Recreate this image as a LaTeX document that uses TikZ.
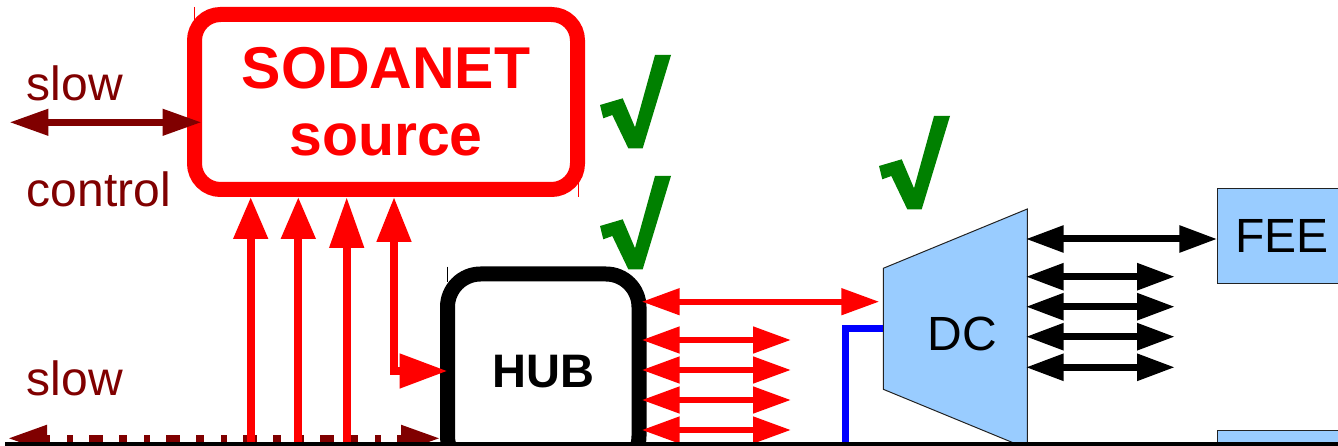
\documentclass[tikz,border=0pt]{standalone}
\usepackage{fontspec}
\setmainfont{Liberation Sans}
\usetikzlibrary{arrows.meta,calc,backgrounds}

\definecolor{sigred}{HTML}{FF0000}
\definecolor{ctrlred}{HTML}{800000}
\definecolor{okgreen}{HTML}{008000}
\definecolor{boxblue}{HTML}{99CCFF}
\definecolor{linkblue}{HTML}{0000FF}
\definecolor{edgegray}{HTML}{222222}

\tikzset{
  every node/.style={inner sep=0pt, outer sep=0pt},
  txt/.style={font=\fontsize{48}{58}\selectfont},
  ctrltxt/.style={txt, text=ctrlred, anchor=base west},
  srcbox/.style={draw=sigred, line width=15pt, rounded corners=26pt, text=sigred,
    align=center, font=\fontsize{59}{67}\selectfont\bfseries},
  hubbox/.style={draw=black, line width=15pt, rounded corners=33pt,
    font=\fontsize{47}{56}\selectfont\bfseries},
  bluebox/.style={draw=edgegray, fill=boxblue, line width=1pt},
  ctrl/.style={draw=ctrlred, line width=7pt, >={Triangle[length=39pt,width=25pt]}},
  feed/.style={draw=sigred, line width=8pt, >={Triangle[length=42pt,width=33pt]}},
  redlink/.style={draw=sigred, line width=6pt, >={Triangle[length=38pt,width=25.6pt]}},
  blklink/.style={draw=black, line width=7pt, >={Triangle[length=38pt,width=25.6pt]}},
  tick/.pic={\fill[okgreen] (0,0) -- (22.7,-6.7) -- (35,22.3) -- (55,-50) -- (71,-50)
     -- (42.7,43.3) -- (28.3,43.3) -- (12.3,10) -- (3.3,13.3) -- cycle;}
}

\begin{document}
\begin{tikzpicture}[x=1pt,y=-1pt]
\useasboundingbox (0,0) rectangle (1338,446);
\clip (0,0) rectangle (1338,446);

% main blocks
\node[srcbox, minimum width=383pt, minimum height=175pt] (src) at (386,102) {SODANET\\source};
\node[hubbox, minimum width=191.5pt, minimum height=195pt] (hub) at (543.25,371.5) {HUB};
\node[minimum width=144pt, minimum height=239.6pt] (dc) at (955.3,328.8) {};
\node[txt, anchor=base] (dctext) at (962.5,350) {DC};
\node[bluebox, txt, minimum width=128.8pt, minimum height=95.7pt] (fee) at (1281.7,236.15) {FEE};
\node[bluebox, minimum width=128.8pt, minimum height=40pt] (fee2) at (1281.7,450) {};

% the DC fan-out as a trapezium behind its label
\begin{scope}[on background layer]
  \draw[bluebox] ($(dc.north west)+(0,59.3)$) -- (dc.north east) -- (dc.south east)
    -- ($(dc.south west)+(0,-59.3)$) -- cycle;
\end{scope}

% slow control labels
\node[ctrltxt] (slowA) at (27,100.7) {slow};
\node[ctrltxt] (ctrlA) at (27,206.7) {control};
\node[ctrltxt] (slowB) at (27,395) {slow};

% free ends
\coordinate (sc1) at (9.3,122.3);
\coordinate (sc2) at (8,438.3);
\coordinate (v1) at (250.7,460);
\coordinate (v2) at (298.3,460);
\coordinate (v3) at (346.7,460);
\coordinate (h1) at (791,340);
\coordinate (h2) at (791,370);
\coordinate (h3) at (791,400);
\coordinate (h4) at (791,430);
\coordinate (d1) at (1175,276.7);
\coordinate (d2) at (1175,306.7);
\coordinate (d3) at (1175,336.7);
\coordinate (d4) at (1175,367.3);
\coordinate (bl) at (845.7,460);

% slow control links
\draw[ctrl,<->] (sc1) -- ($(src.west |- sc1)+(7.2,0)$);
\draw[ctrl,<->, dash pattern=on 14pt off 16pt on 8pt off 17pt on 6pt off 16pt, dash phase=33pt]
  (sc2) -- ($(hub.west |- sc2)+(-7.5,0)$);

% links into the source
\draw[feed,->] (v1) -- ($(v1 |- src.south)+(0,7.5)$);
\draw[feed,->] (v2) -- ($(v2 |- src.south)+(0,7.5)$);
\draw[feed,-{Triangle[length=51pt,width=33pt]}] (v3) -- ($(v3 |- src.south)+(0,7.5)$);
\draw[feed,{Triangle[length=45pt,width=33pt]}-{Triangle[length=48pt,width=33pt]}]
  ($(394,0 |- src.south)+(0,7.5)$) |- (hub.west |- 0,371);

% HUB outputs
\draw[redlink,<->] ($(hub.east |- 0,301.7)+(2.7,0)$) -- ($(dc.west |- 0,301.7)+(-4,0)$);
\draw[redlink,<->] ($(hub.east |- h1)+(2.7,0)$) -- (h1);
\draw[redlink,<->] ($(hub.east |- h2)+(2.7,0)$) -- (h2);
\draw[redlink,<->] ($(hub.east |- h3)+(2.7,0)$) -- (h3);
\draw[redlink,<->] ($(hub.east |- h4)+(2.7,0)$) -- (h4);

% DC input and outputs
\draw[linkblue, line width=7pt] (bl) |- (dc.west |- 0,328.3);
\draw[blklink,<->] ($(dc.east |- 0,239)+(-1.6,0)$) -- (fee.west |- 0,239);
\draw[blklink,<->] ($(dc.east |- d1)+(-1.6,0)$) -- (d1);
\draw[blklink,<->] ($(dc.east |- d2)+(-1.6,0)$) -- (d2);
\draw[blklink,<->] ($(dc.east |- d3)+(-1.6,0)$) -- (d3);
\draw[blklink,<->] ($(dc.east |- d4)+(-1.6,0)$) -- (d4);

% check marks
\pic at (600,105) {tick};
\pic at (600,226) {tick};
\pic at (879,166) {tick};

% small frame marks
\draw[sigred, line width=0.8pt] (194,7) -- (194,20);
\draw[sigred, line width=0.8pt] (578.3,183) -- (578.3,197);
\draw[black, line width=0.8pt] (447.3,266.7) -- (447.3,281.7);

% ground line
\draw[line width=4pt] (5,444) -- (1338,444);
\end{tikzpicture}
\end{document}
